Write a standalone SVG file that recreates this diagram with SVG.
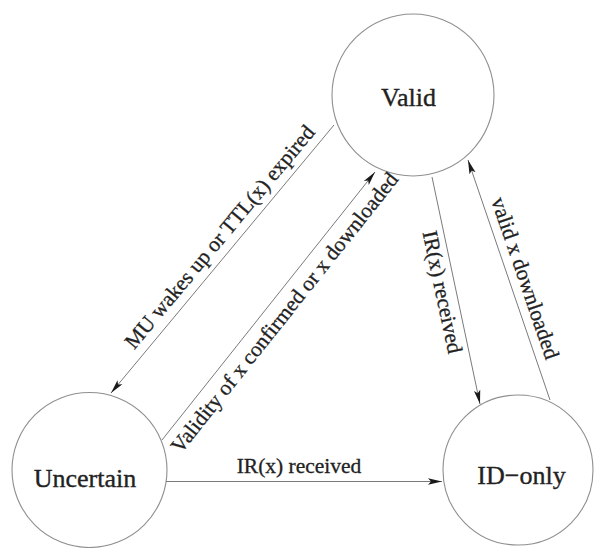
<svg xmlns="http://www.w3.org/2000/svg" width="594" height="548" viewBox="0 0 594 548">
<style>
.node{fill:#fff;stroke:#8f8f8f;stroke-width:1.1}
.nl{font-family:"Liberation Serif","Times New Roman",serif;font-size:26px;fill:#222;stroke:#222;stroke-width:0.35;text-anchor:middle}
.el{font-family:"Liberation Serif","Times New Roman",serif;font-size:21.5px;fill:#222;stroke:#222;stroke-width:0.3;text-anchor:middle}
.edge{fill:none;stroke:#7a7a7a;stroke-width:1;marker-end:url(#ah)}
</style>
<defs>
<marker id="ah" markerUnits="userSpaceOnUse" markerWidth="16" markerHeight="8" refX="14" refY="4" orient="auto" viewBox="0 0 16 8">
<path d="M0,0.8 L14,4 L0,7.2 L3,4 Z" fill="#1a1a1a"/>
</marker>
</defs>
<rect width="594" height="548" fill="#fff"/>
<g id="node-valid">
<circle class="node" cx="413" cy="95" r="81"/>
<text class="nl" x="408.5" y="106">Valid</text>
</g>
<g id="node-uncertain">
<circle class="node" cx="89.5" cy="470" r="77.5"/>
<text class="nl" x="85" y="487">Uncertain</text>
</g>
<g id="node-idonly">
<circle class="node" cx="518" cy="470" r="75"/>
<text class="nl" x="521.5" y="484">ID−only</text>
</g>
<g id="connectors">
<line class="edge" x1="334" y1="125" x2="111" y2="393"/>
<line class="edge" x1="162" y1="440" x2="375" y2="172"/>
<line class="edge" x1="432" y1="177" x2="480" y2="404"/>
<line class="edge" x1="550" y1="400" x2="468" y2="160"/>
<line class="edge" x1="166" y1="481.5" x2="442" y2="481.5"/>
<text class="el" transform="translate(225,241.5) rotate(-50.1)">MU wakes up or TTL(x) expired</text>
<text class="el" transform="translate(290,317) rotate(-51.5)">Validity of x confirmed or x downloaded</text>
<text class="el" transform="translate(435.5,293.5) rotate(78)">IR(x) received</text>
<text class="el" transform="translate(518.5,280.5) rotate(71.1)">valid x downloaded</text>
<text class="el" x="299" y="473">IR(x) received</text>
</g>
</svg>
